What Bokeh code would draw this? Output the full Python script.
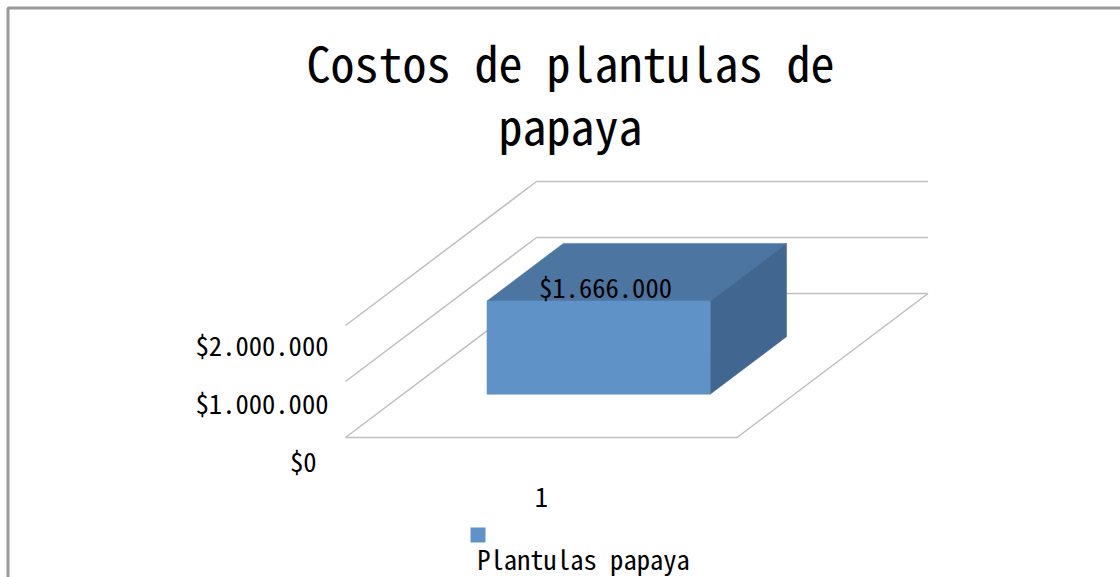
from bokeh.plotting import figure
from bokeh.core.properties import value
from bokeh.embed import file_html
from bokeh.resources import INLINE

title_lines = ["Costos de plantulas de", "papaya"]
tick_values = [0, 1000000, 2000000]
tick_labels = ["$0", "$1.000.000", "$2.000.000"]
categories = ["1"]
series_name = "Plantulas papaya"
series_values = [1666000]
data_labels = ["$1.666.000"]

FONT = "Noto Sans Mono CJK JP, Noto Sans CJK JP"
PX_PER_UNIT = 56 / 1e6
W, H = 1120, 577
BASE_Y = 437


def py(pixel):
    return (BASE_Y - pixel) / PX_PER_UNIT


def project(u, d, v):
    # oblique projection: u across the floor, d into depth, v = dollars
    return 345 + 391.5 * u + 191 * d, 144 * d / PX_PER_UNIT + v


p = figure(width=W, height=H, x_range=(0, W), y_range=(py(H), py(0)),
           output_backend="svg", toolbar_location=None, min_border=0)
p.axis.visible = False
p.grid.visible = False
p.outline_line_color = None

GRID = "#BFBFBF"
for t in tick_values:
    a, b, c = project(0, 0, t), project(0, 1, t), project(1, 1, t)
    p.line([a[0], b[0], c[0]], [a[1], b[1], c[1]], line_color=GRID, line_width=1.5)
f0, f1, f2 = project(0, 0, 0), project(1, 0, 0), project(1, 1, 0)
p.line([f0[0], f1[0], f2[0]], [f0[1], f1[1], f2[1]], line_color=GRID, line_width=1.5)

U0, U1, D0, D1 = 0.215, 0.785, 0.30, 0.70
v = series_values[0]
faces = [
    ("#4D75A1", [(U0, D0, v), (U1, D0, v), (U1, D1, v), (U0, D1, v)]),
    ("#41668F", [(U1, D0, 0), (U1, D1, 0), (U1, D1, v), (U1, D0, v)]),
    ("#5F93C8", [(U0, D0, 0), (U1, D0, 0), (U1, D0, v), (U0, D0, v)]),
]
for color, pts in faces:
    xy = [project(*q) for q in pts]
    p.patch([q[0] for q in xy], [q[1] for q in xy], fill_color=color, line_color=color, line_width=0.5)

# frame of the chart area (cut off on the right and at the bottom of the picture)
p.line([7.5, 7.5, W], [py(H), py(7.5), py(7.5)], line_color="#999999", line_width=3)


def label(text, x, y_px, size, align="left"):
    p.text([x], [py(y_px)], text=[text], text_font=value(FONT), text_font_size=f"{size}px",
           text_color="#000000", text_align=align, text_baseline="middle")


label(title_lines[0], 570, 60, 48, "center")
label(title_lines[1], 570, 123, 48, "center")
tick_x = [316, 328, 328]
tick_y = [460, 402, 344]
for lab, x, y in zip(tick_labels, tick_x, tick_y):
    label(lab, x, y, 26.6, "right")
label(data_labels[0], 605, 286, 26.6, "center")
label(categories[0], 541, 496, 26.6, "center")
p.scatter([477.5], [py(534.5)], marker="square", size=15, fill_color="#5F93C8", line_color=None)
label(series_name, 583, 558, 26.6, "center")

open("out.html", "w").write(file_html(p, INLINE))
